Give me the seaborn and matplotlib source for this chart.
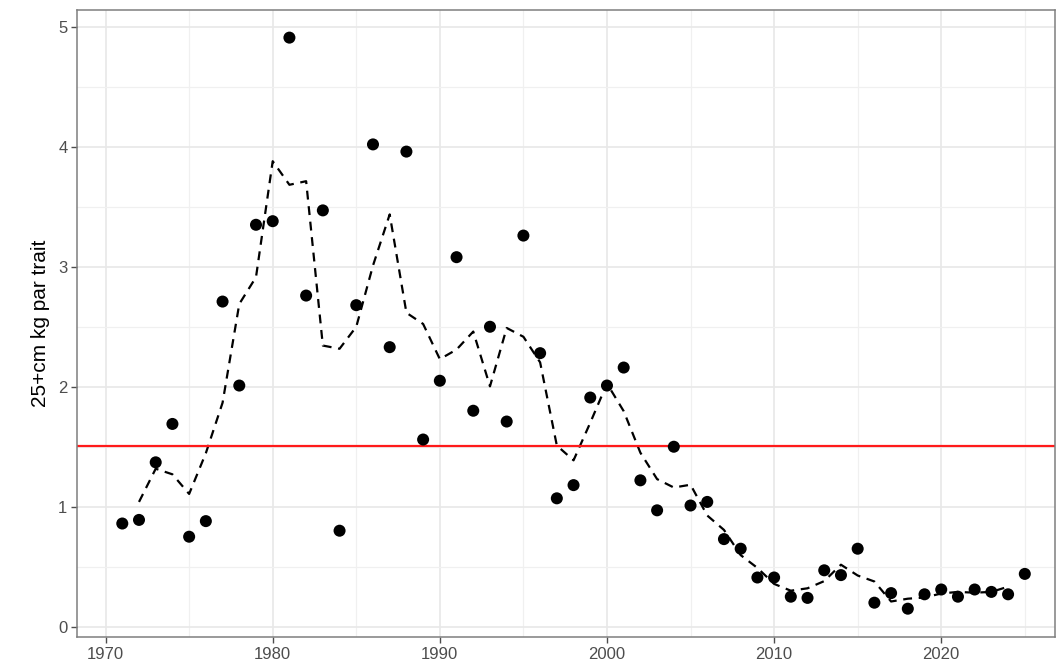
import numpy as np
import pandas as pd
import matplotlib
matplotlib.use("Agg")
import matplotlib.pyplot as plt
import seaborn as sns
from matplotlib.ticker import MultipleLocator

years = list(range(1971, 2026))
kg_per_tow = [
    0.86, 0.89, 1.37, 1.69, 0.75, 0.88, 2.71, 2.01, 3.35, 3.38,   # 1971-1980
    4.91, 2.76, 3.47, 0.80, 2.68, 4.02, 2.33, 3.96, 1.56, 2.05,   # 1981-1990
    3.08, 1.80, 2.50, 1.71, 3.26, 2.28, 1.07, 1.18, 1.91, 2.01,   # 1991-2000
    2.16, 1.22, 0.97, 1.50, 1.01, 1.04, 0.73, 0.65, 0.41, 0.41,   # 2001-2010
    0.25, 0.24, 0.47, 0.43, 0.65, 0.20, 0.28, 0.15, 0.27, 0.31,   # 2011-2020
    0.25, 0.31, 0.29, 0.27, 0.44,                                 # 2021-2025
]
ref_level = 1.51

df = pd.DataFrame({"year": years, "kg": kg_per_tow})
# 3-year centred running mean
df["smooth"] = df["kg"].rolling(3, center=True).mean()

sns.set_theme(style="whitegrid")
plt.rcParams["font.family"] = ["Liberation Sans", "DejaVu Sans"]

fig = plt.figure(figsize=(10.57, 6.69), dpi=100)
ax = fig.add_axes([0.073, 0.048, 0.925, 0.937])

sns.lineplot(data=df, x="year", y="smooth", ax=ax, color="black",
             linestyle=(0, (4, 3)), linewidth=1.6)
sns.scatterplot(data=df, x="year", y="kg", ax=ax, color="black",
                s=75, edgecolor="none", zorder=3)
ax.axhline(ref_level, color="#ff1a1a", linewidth=1.6, zorder=2)

ax.set_xlim(1968.3, 2026.8)
ax.set_ylim(-0.085, 5.14)
ax.xaxis.set_major_locator(MultipleLocator(10))
ax.xaxis.set_minor_locator(MultipleLocator(5))
ax.yaxis.set_major_locator(MultipleLocator(1))
ax.yaxis.set_minor_locator(MultipleLocator(0.5))

ax.grid(which="major", color="#e8e8e8", linewidth=1.2)
ax.grid(which="minor", color="#f0f0f0", linewidth=0.9)
ax.set_axisbelow(True)
for sp in ax.spines.values():
    sp.set_color("#7f7f7f")
    sp.set_linewidth(1.1)

ax.tick_params(axis="both", which="major", length=4, width=1, color="#4d4d4d",
               labelsize=12, labelcolor="#4d4d4d", bottom=True, left=True, pad=3)
ax.tick_params(which="minor", length=0)
ax.set_xlabel("")
ax.set_ylabel("25+cm kg par trait", fontsize=15, color="black", labelpad=6)

fig.savefig("out.png", dpi=100)
